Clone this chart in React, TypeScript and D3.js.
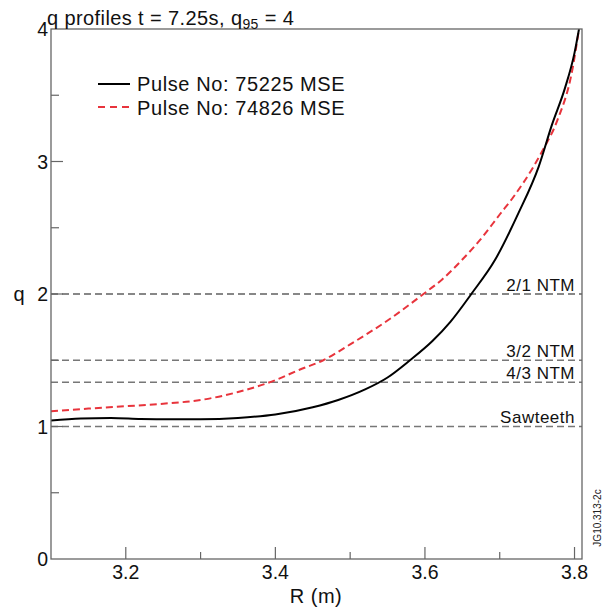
import React from "react";
import * as d3 from "d3";

const R_BLACK = [3.10, 3.14, 3.18, 3.22, 3.26, 3.30, 3.35, 3.40, 3.45, 3.484, 3.52, 3.55, 3.58, 3.61, 3.634, 3.662, 3.694, 3.725, 3.752, 3.77, 3.787, 3.80, 3.806];
const Q_BLACK = [1.045, 1.06, 1.065, 1.057, 1.054, 1.055, 1.065, 1.09, 1.145, 1.20, 1.28, 1.37, 1.50, 1.645, 1.79, 2.0, 2.26, 2.61, 2.96, 3.28, 3.55, 3.82, 4.0];

const R_RED = [3.10, 3.15, 3.20, 3.25, 3.30, 3.35, 3.40, 3.433, 3.464, 3.50, 3.55, 3.598, 3.623, 3.65, 3.674, 3.70, 3.718, 3.745, 3.758, 3.777, 3.797, 3.806];
const Q_RED = [1.115, 1.135, 1.153, 1.172, 1.20, 1.26, 1.35, 1.43, 1.50, 1.62, 1.80, 2.0, 2.11, 2.26, 2.41, 2.60, 2.73, 2.96, 3.09, 3.31, 3.69, 4.0];

const REF_VALUES = [2, 1.5, 4 / 3, 1];
const REF_LABELS = ["2/1 NTM", "3/2 NTM", "4/3 NTM", "Sawteeth"];

const X_MAJOR = [3.2, 3.4, 3.6, 3.8];
const X_MINOR = [3.3, 3.5, 3.7];
const Y_MAJOR = [0, 1, 2, 3, 4];
const Y_MINOR = [0.5, 1.5, 2.5, 3.5];

const SERIES_NAMES = ["Pulse No: 75225 MSE", "Pulse No: 74826 MSE"];

const FONT = "'Liberation Sans', Arial, Helvetica, sans-serif";

export default function App() {
  const left = 51, right = 582, top = 29, bottom = 559;
  const x = d3.scaleLinear().domain([3.1, 3.81]).range([left, right]);
  const y = d3.scaleLinear().domain([0, 4]).range([bottom, top]);
  const line = d3
    .line<[number, number]>()
    .x((d) => x(d[0]))
    .y((d) => y(d[1]))
    .curve(d3.curveMonotoneX);
  const blackPts = R_BLACK.map((r, i) => [r, Q_BLACK[i]] as [number, number]);
  const redPts = R_RED.map((r, i) => [r, Q_RED[i]] as [number, number]);
  const axisColor = "#666";

  return (
    <svg
      width={604}
      height={611}
      style={{ position: "absolute", left: 0, top: 0, background: "#fff" }}
      fontFamily={FONT}
    >
      <rect x={0} y={0} width={604} height={611} fill="#fff" />
      <defs>
        <clipPath id="plot">
          <rect x={left} y={top} width={right - left} height={bottom - top} />
        </clipPath>
      </defs>
      {/* reference lines */}
      {REF_VALUES.map((v, i) => (
        <g key={i}>
          <line
            x1={left}
            x2={right}
            y1={y(v)}
            y2={y(v)}
            stroke={i === 0 ? "#111" : "#777"}
            strokeWidth={i === 0 ? 1.1 : 1.5}
            strokeDasharray="7,4"
          />
          <text x={575} y={y(v) - 3.5} textAnchor="end" fontSize={17} letterSpacing={0.5} fill="#111">
            {REF_LABELS[i]}
          </text>
        </g>
      ))}
      {/* curves */}
      <g clipPath="url(#plot)">
        <path d={line(redPts) ?? ""} fill="none" stroke="#e8343c" strokeWidth={2} strokeDasharray="7,4" />
        <path d={line(blackPts) ?? ""} fill="none" stroke="#000" strokeWidth={2} />
      </g>
      {/* frame */}
      <rect x={left} y={top} width={right - left} height={bottom - top} fill="none" stroke={axisColor} strokeWidth={1.3} />
      {/* x ticks */}
      {X_MAJOR.map((t) => (
        <g key={"xm" + t}>
          <line x1={x(t)} x2={x(t)} y1={bottom} y2={bottom - 12} stroke={axisColor} strokeWidth={1.2} />
          <text x={x(t)} y={579} textAnchor="middle" fontSize={19.5} fill="#111">
            {t.toFixed(1)}
          </text>
        </g>
      ))}
      {X_MINOR.map((t) => (
        <line key={"xn" + t} x1={x(t)} x2={x(t)} y1={bottom} y2={bottom - 7} stroke={axisColor} strokeWidth={1.2} />
      ))}
      {/* y ticks */}
      {Y_MAJOR.map((t) => (
        <g key={"ym" + t}>
          {t > 0 && t < 4 && (
            <line x1={left} x2={left + 12} y1={y(t)} y2={y(t)} stroke={axisColor} strokeWidth={1.2} />
          )}
          <text x={48} y={y(t) + 7} textAnchor="end" fontSize={19.5} fill="#111">
            {t}
          </text>
        </g>
      ))}
      {Y_MINOR.map((t) => (
        <line key={"yn" + t} x1={left} x2={left + 8} y1={y(t)} y2={y(t)} stroke={axisColor} strokeWidth={1.2} />
      ))}
      {/* axis labels */}
      <text x={316} y={603} textAnchor="middle" fontSize={20} letterSpacing={0.5} fill="#111">
        R (m)
      </text>
      <text x={19} y={301} textAnchor="middle" fontSize={20} fill="#111">
        q
      </text>
      {/* title */}
      <text x={47} y={25} fontSize={20} letterSpacing={0.4} fill="#111">
        q profiles t = 7.25s, q
        <tspan fontSize={14} dy={4}>95</tspan>
        <tspan dy={-4}> = 4</tspan>
      </text>
      {/* legend */}
      <line x1={98} x2={130} y1={84} y2={84} stroke="#000" strokeWidth={2} />
      <text x={137} y={91} fontSize={20} letterSpacing={0.6} fill="#111">
        {SERIES_NAMES[0]}
      </text>
      <line x1={98} x2={130} y1={107} y2={107} stroke="#e8343c" strokeWidth={2} strokeDasharray="7,5" />
      <text x={137} y={115} fontSize={20} letterSpacing={0.6} fill="#111">
        {SERIES_NAMES[1]}
      </text>
      {/* watermark */}
      <text
        x={0}
        y={0}
        fontSize={10}
        fill="#222"
        textAnchor="middle"
        transform="translate(601,518) rotate(-90)"
      >
        JG10.313-2c
      </text>
    </svg>
  );
}
